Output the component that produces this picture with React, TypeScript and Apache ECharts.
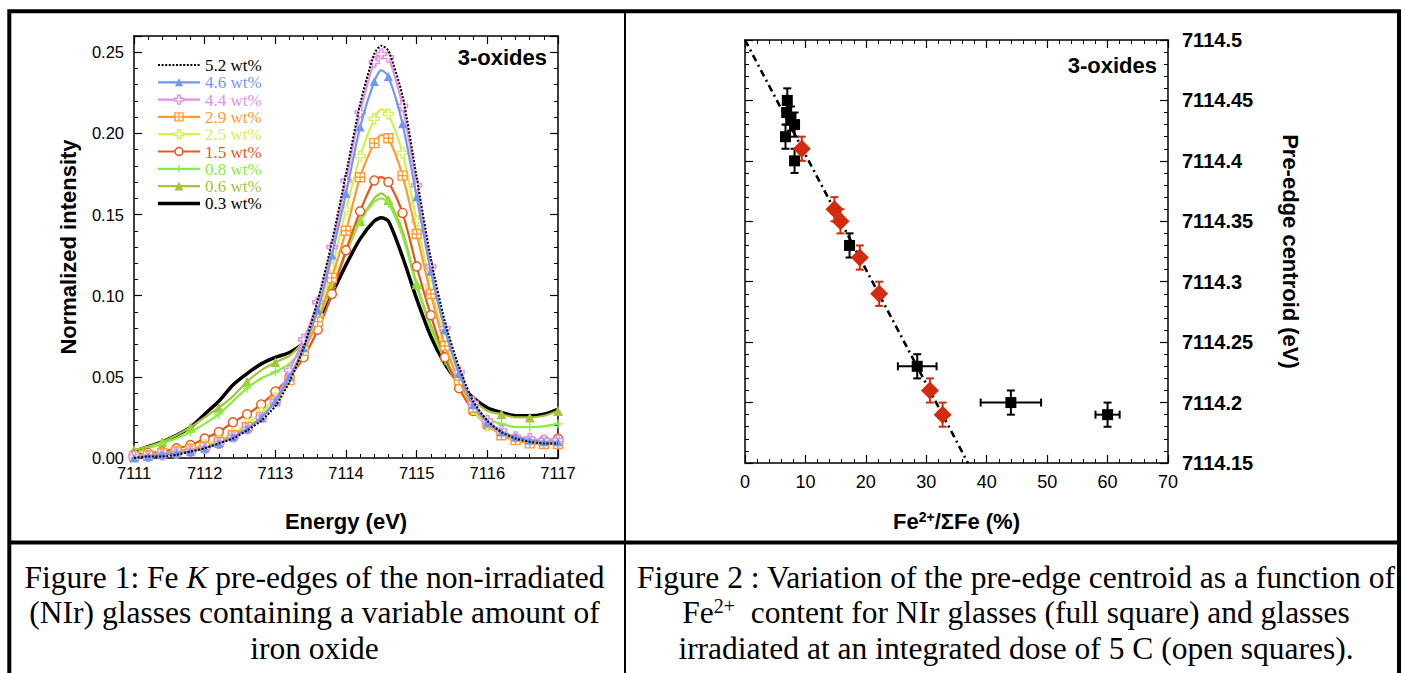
import React, { useEffect, useRef } from 'react';
import * as echarts from 'echarts';

// ---------------- DATA ----------------
// Figure 1 : Fe K pre-edges (normalized intensity vs energy)
const energy = [
  7111.0, 7111.2, 7111.4, 7111.6, 7111.8, 7112.0, 7112.2, 7112.4, 7112.6, 7112.8,
  7113.0, 7113.2, 7113.4, 7113.6, 7113.8, 7114.0, 7114.2, 7114.4, 7114.5, 7114.6,
  7114.8, 7115.0, 7115.2, 7115.4, 7115.6, 7115.8, 7116.0, 7116.2, 7116.4, 7116.6,
  7116.8, 7117.0,
];
const seriesNames = ['5.2 wt%', '4.6 wt%', '4.4 wt%', '2.9 wt%', '2.5 wt%', '1.5 wt%', '0.8 wt%', '0.6 wt%', '0.3 wt%'];
const wt52 = [0.000, 0.001, 0.001, 0.002, 0.004, 0.006, 0.009, 0.012, 0.017, 0.023, 0.032, 0.047, 0.068, 0.097, 0.133, 0.175, 0.218, 0.249, 0.254, 0.251, 0.223, 0.173, 0.123, 0.084, 0.056, 0.035, 0.023, 0.016, 0.012, 0.010, 0.009, 0.009];
const wt46 = [0.000, 0.001, 0.002, 0.003, 0.004, 0.006, 0.009, 0.013, 0.018, 0.025, 0.035, 0.050, 0.068, 0.091, 0.125, 0.163, 0.204, 0.232, 0.239, 0.235, 0.206, 0.161, 0.115, 0.079, 0.052, 0.033, 0.022, 0.016, 0.013, 0.011, 0.010, 0.010];
const wt44 = [0.001, 0.001, 0.002, 0.003, 0.004, 0.006, 0.009, 0.013, 0.018, 0.025, 0.035, 0.054, 0.073, 0.096, 0.130, 0.171, 0.213, 0.244, 0.249, 0.247, 0.217, 0.168, 0.118, 0.080, 0.053, 0.034, 0.023, 0.017, 0.013, 0.012, 0.011, 0.011];
const wt29 = [0.001, 0.0015, 0.003, 0.004, 0.0055, 0.007, 0.010, 0.014, 0.019, 0.025, 0.035, 0.048, 0.066, 0.084, 0.111, 0.140, 0.173, 0.194, 0.199, 0.197, 0.174, 0.138, 0.101, 0.069, 0.048, 0.031, 0.0215, 0.014, 0.011, 0.009, 0.0086, 0.0086];
const wt25 = [0.001, 0.002, 0.003, 0.004, 0.006, 0.008, 0.011, 0.015, 0.021, 0.028, 0.037, 0.049, 0.066, 0.088, 0.117, 0.153, 0.186, 0.209, 0.215, 0.212, 0.188, 0.146, 0.106, 0.073, 0.048, 0.030, 0.020, 0.015, 0.012, 0.010, 0.010, 0.010];
const wt15 = [0.002, 0.003, 0.004, 0.006, 0.008, 0.012, 0.016, 0.022, 0.027, 0.033, 0.041, 0.050, 0.062, 0.079, 0.101, 0.128, 0.152, 0.171, 0.173, 0.170, 0.151, 0.118, 0.088, 0.062, 0.043, 0.029, 0.020, 0.015, 0.012, 0.011, 0.011, 0.012];
const wt08 = [0.003, 0.006, 0.009, 0.012, 0.016, 0.021, 0.027, 0.035, 0.043, 0.049, 0.053, 0.058, 0.068, 0.085, 0.105, 0.127, 0.146, 0.158, 0.160, 0.157, 0.137, 0.106, 0.080, 0.060, 0.043, 0.032, 0.024, 0.021, 0.019, 0.019, 0.0195, 0.021];
const wt06 = [0.005, 0.007, 0.010, 0.014, 0.019, 0.025, 0.031, 0.038, 0.047, 0.054, 0.059, 0.063, 0.072, 0.086, 0.105, 0.126, 0.146, 0.160, 0.163, 0.159, 0.140, 0.107, 0.082, 0.062, 0.046, 0.036, 0.029, 0.027, 0.025, 0.025, 0.026, 0.029];
const wt03 = [0.004, 0.007, 0.010, 0.014, 0.019, 0.027, 0.035, 0.045, 0.052, 0.058, 0.062, 0.065, 0.071, 0.083, 0.101, 0.119, 0.135, 0.146, 0.148, 0.146, 0.124, 0.098, 0.075, 0.058, 0.046, 0.037, 0.031, 0.028, 0.026, 0.026, 0.027, 0.030];
const curveValues = [wt52, wt46, wt44, wt29, wt25, wt15, wt08, wt06, wt03];

const energyTicks = { min: 7111, max: 7117, step: 1 };
const intensityTicks = { min: 0, max: 0.26, step: 0.05, minor: 0.01 };

// Figure 2 : pre-edge centroid vs Fe2+/SumFe
const nirFe = [7.0, 6.9, 7.6, 8.2, 6.7, 8.2, 17.3, 28.5, 44.0, 60.0];
const nirCentroid = [7114.45, 7114.44, 7114.435, 7114.43, 7114.42, 7114.40, 7114.33, 7114.23, 7114.20, 7114.19];
const nirFeErr = [0, 0, 0, 0, 0, 0, 0, 3.2, 5.0, 2.0];
const nirCentroidErr = [0.01, 0.01, 0.01, 0.01, 0.01, 0.01, 0.01, 0.01, 0.01, 0.01];
const irrFe = [9.4, 14.8, 15.8, 19.0, 22.2, 30.6, 32.7];
const irrCentroid = [7114.41, 7114.36, 7114.35, 7114.32, 7114.29, 7114.21, 7114.19];
const irrCentroidErr = [0.01, 0.01, 0.01, 0.01, 0.01, 0.01, 0.01];
const fitLine = [[0, 7114.5], [36.9, 7114.15]];

const feTicks = { min: 0, max: 70, step: 10 };
const centroidTicks = { min: 7114.15, max: 7114.5, step: 0.05 };

// ---------------- STYLES ----------------
const SANS = '"Liberation Sans", Arial, Helvetica, sans-serif';
const SERIF = '"Liberation Serif", "Times New Roman", serif';

const CROSS_OPEN = 'path://M3.5,0H6.5V3.5H10V6.5H6.5V10H3.5V6.5H0V3.5H3.5Z';
const SQ_CROSS = 'path://M0,0H10V10H0Z M5,0V10 M0,5H10';
const PLUS = 'path://M5,0V10 M0,5H10';

type CurveStyle = { color: string; text: string; width: number; dash?: number[]; marker: string; size?: number; every?: number; peak?: boolean };
const curveStyles: CurveStyle[] = [
  { color: '#000000', text: '#000000', width: 2, dash: [2, 1.6], marker: 'none' },
  { color: '#6f98f2', text: '#6f98f2', width: 2.2, marker: 'triangle', size: 9 },
  { color: '#e48de6', text: '#e48de6', width: 2.2, marker: 'crossOpen', size: 10, peak: true },
  { color: '#ff9a33', text: '#ff9a33', width: 2.2, marker: 'sqCross', size: 9 },
  { color: '#d6f04a', text: '#d6f04a', width: 2.2, marker: 'crossOpen', size: 10 },
  { color: '#e8561c', text: '#e8561c', width: 2.2, marker: 'circle', size: 9 },
  { color: '#86ee40', text: '#86ee40', width: 2.2, marker: 'plus', size: 9, every: 2 },
  { color: '#a6c43a', text: '#a6c43a', width: 2.2, marker: 'triangle', size: 10, every: 2 },
  { color: '#000000', text: '#000000', width: 3.5, marker: 'none' },
];

function seriesSymbol(st: CurveStyle) {
  switch (st.marker) {
    case 'triangle':
      return { symbol: 'triangle', itemStyle: { color: st.color } };
    case 'crossOpen':
      return { symbol: CROSS_OPEN, itemStyle: { color: '#ffffff', borderColor: st.color, borderWidth: 1.4 } };
    case 'sqCross':
      return { symbol: SQ_CROSS, itemStyle: { color: '#ffffff', borderColor: st.color, borderWidth: 1.4 } };
    case 'circle':
      return { symbol: 'circle', itemStyle: { color: '#ffffff', borderColor: st.color, borderWidth: 1.4 } };
    case 'plus':
      return { symbol: PLUS, itemStyle: { color: st.color, borderColor: st.color, borderWidth: 1.3 } };
    default:
      return { symbol: 'none', itemStyle: { color: st.color } };
  }
}

function legendMarker(kind: string, cx: number, cy: number, s: number, color: string): any[] {
  const out: any[] = [];
  const z = 60;
  if (kind === 'triangle') {
    out.push({ type: 'polygon', z, shape: { points: [[cx, cy - s / 2], [cx + s / 2, cy + s / 2], [cx - s / 2, cy + s / 2]] }, style: { fill: color } });
  } else if (kind === 'crossOpen') {
    const pts = [[3.5, 0], [6.5, 0], [6.5, 3.5], [10, 3.5], [10, 6.5], [6.5, 6.5], [6.5, 10], [3.5, 10], [3.5, 6.5], [0, 6.5], [0, 3.5], [3.5, 3.5]]
      .map(([px, py]) => [cx + (px - 5) * s / 10, cy + (py - 5) * s / 10]);
    out.push({ type: 'polygon', z, shape: { points: pts }, style: { fill: '#fff', stroke: color, lineWidth: 1.4 } });
  } else if (kind === 'sqCross') {
    out.push({ type: 'rect', z, shape: { x: cx - s / 2, y: cy - s / 2, width: s, height: s }, style: { fill: '#fff', stroke: color, lineWidth: 1.4 } });
    out.push({ type: 'line', z: z + 1, shape: { x1: cx, y1: cy - s / 2, x2: cx, y2: cy + s / 2 }, style: { stroke: color, lineWidth: 1.2 } });
    out.push({ type: 'line', z: z + 1, shape: { x1: cx - s / 2, y1: cy, x2: cx + s / 2, y2: cy }, style: { stroke: color, lineWidth: 1.2 } });
  } else if (kind === 'circle') {
    out.push({ type: 'circle', z, shape: { cx, cy, r: s / 2 }, style: { fill: '#fff', stroke: color, lineWidth: 1.4 } });
  } else if (kind === 'plus') {
    out.push({ type: 'line', z, shape: { x1: cx, y1: cy - s / 2, x2: cx, y2: cy + s / 2 }, style: { stroke: color, lineWidth: 1.3 } });
    out.push({ type: 'line', z, shape: { x1: cx - s / 2, y1: cy, x2: cx + s / 2, y2: cy }, style: { stroke: color, lineWidth: 1.3 } });
  }
  return out;
}

function txt(text: string, x: number, y: number, opts: any = {}) {
  const align = opts.align || 'left';
  return {
    type: 'text',
    x,
    y,
    z: 70,
    style: {
      text,
      fill: opts.fill || '#000',
      fontSize: opts.fontSize || 16,
      fontFamily: opts.fontFamily || SANS,
      fontWeight: opts.fontWeight || 'normal',
      textAlign: align,
      align,
      textVerticalAlign: 'middle',
      verticalAlign: 'middle',
      rich: opts.rich,
    },
  };
}

const tickStyle = { color: '#000', width: 1.2 };
const lineStyleAxis = { color: '#000', width: 1.5 };

function axisBox(base: any) {
  return {
    type: 'value',
    splitLine: { show: false },
    axisLine: { show: true, onZero: false, lineStyle: lineStyleAxis },
    axisTick: { show: true, inside: true, length: 8, lineStyle: tickStyle },
    axisLabel: { show: false },
    ...base,
  };
}

const errorRender = (color: string) => (params: any, api: any) => {
  const x = api.value(0);
  const y = api.value(1);
  const ex = api.value(2);
  const ey = api.value(3);
  const cap = 4;
  const st = { stroke: color, lineWidth: 2 };
  const children: any[] = [];
  if (ey > 0) {
    const p1 = api.coord([x, y - ey]);
    const p2 = api.coord([x, y + ey]);
    children.push({ type: 'line', shape: { x1: p1[0], y1: p1[1], x2: p2[0], y2: p2[1] }, style: st });
    children.push({ type: 'line', shape: { x1: p1[0] - cap, y1: p1[1], x2: p1[0] + cap, y2: p1[1] }, style: st });
    children.push({ type: 'line', shape: { x1: p2[0] - cap, y1: p2[1], x2: p2[0] + cap, y2: p2[1] }, style: st });
  }
  if (ex > 0) {
    const p1 = api.coord([x - ex, y]);
    const p2 = api.coord([x + ex, y]);
    children.push({ type: 'line', shape: { x1: p1[0], y1: p1[1], x2: p2[0], y2: p2[1] }, style: st });
    children.push({ type: 'line', shape: { x1: p1[0], y1: p1[1] - cap, x2: p1[0], y2: p1[1] + cap }, style: st });
    children.push({ type: 'line', shape: { x1: p2[0], y1: p2[1] - cap, x2: p2[0], y2: p2[1] + cap }, style: st });
  }
  return { type: 'group', children };
};

function buildOption() {
  const lineSeries = curveValues.map((vals, si) => {
    const st = curveStyles[si];
    const sym = seriesSymbol(st);
    const every = st.every || 1;
    return {
      name: seriesNames[si],
      type: 'line',
      xAxisIndex: 0,
      yAxisIndex: 0,
      data: energy.map((e, i) => [e, vals[i]]),
      smooth: 0.25,
      showSymbol: st.marker !== 'none',
      symbol: sym.symbol,
      symbolSize: (v: any, p: any) => {
        const e = energy[p.dataIndex];
        if (Math.abs(e - 7114.5) < 1e-6) return st.peak ? st.size : 0;
        const g = Math.round((e - energyTicks.min) / 0.2);
        return g % every === 0 ? st.size : 0;
      },
      itemStyle: { ...sym.itemStyle, opacity: 1 },
      lineStyle: { color: st.color, width: st.width, type: st.dash || 'solid' },
      z: 10 - si * 0.1,
      emphasis: { disabled: true },
    };
  });

  const series: any[] = [
    ...lineSeries,
    {
      type: 'line',
      name: 'fit',
      xAxisIndex: 2,
      yAxisIndex: 4,
      data: fitLine,
      symbol: 'none',
      lineStyle: { color: '#000', width: 2.6, type: [7, 4, 2, 4] },
      z: 2,
    },
    {
      type: 'custom',
      name: 'NIr error',
      xAxisIndex: 2,
      yAxisIndex: 4,
      renderItem: errorRender('#000000'),
      data: nirFe.map((x, i) => [x, nirCentroid[i], nirFeErr[i], nirCentroidErr[i]]),
      encode: { x: 0, y: 1 },
      z: 3,
    },
    {
      type: 'custom',
      name: 'Irr error',
      xAxisIndex: 2,
      yAxisIndex: 4,
      renderItem: errorRender('#d42a0e'),
      data: irrFe.map((x, i) => [x, irrCentroid[i], 0, irrCentroidErr[i]]),
      encode: { x: 0, y: 1 },
      z: 3,
    },
    {
      type: 'scatter',
      name: 'NIr',
      xAxisIndex: 2,
      yAxisIndex: 4,
      symbol: 'rect',
      symbolSize: 11,
      itemStyle: { color: '#000000', opacity: 1 },
      data: nirFe.map((x, i) => [x, nirCentroid[i]]),
      z: 4,
      emphasis: { disabled: true },
    },
    {
      type: 'scatter',
      name: 'Irradiated',
      xAxisIndex: 2,
      yAxisIndex: 4,
      symbol: 'diamond',
      symbolSize: [18, 18],
      itemStyle: { color: '#d42a0e', opacity: 1 },
      data: irrFe.map((x, i) => [x, irrCentroid[i]]),
      z: 5,
      emphasis: { disabled: true },
    },
  ];

  const minorTick = { show: true, splitNumber: 5, length: 4, lineStyle: { color: '#000', width: 1 } };

  const xAxis = [
    axisBox({
      gridIndex: 0, position: 'bottom', min: energyTicks.min, max: energyTicks.max, interval: energyTicks.step,
      minorTick,
      axisLabel: { show: true, color: '#000', fontSize: 16.5, fontFamily: SANS, margin: 6, formatter: (v: number) => String(v) },
      name: 'Energy (eV)', nameLocation: 'middle', nameGap: 52,
      nameTextStyle: { color: '#000', fontSize: 22, fontWeight: 'bold', fontFamily: SANS },
    }),
    axisBox({ gridIndex: 0, position: 'top', min: energyTicks.min, max: energyTicks.max, interval: energyTicks.step, minorTick }),
    axisBox({
      gridIndex: 1, position: 'bottom', min: feTicks.min, max: feTicks.max, interval: feTicks.step,
      minorTick,
      axisLabel: { show: true, color: '#000', fontSize: 18, fontFamily: SANS, margin: 10, formatter: (v: number) => String(v) },
      name: '{b|Fe}{s|2+}{b|/ΣFe (%)}', nameLocation: 'middle', nameGap: 47,
      nameTextStyle: {
        color: '#000', fontSize: 22, fontWeight: 'bold', fontFamily: SANS,
        rich: {
          b: { fontSize: 22, fontWeight: 'bold', fontFamily: SANS, color: '#000' },
          s: { fontSize: 14, fontWeight: 'bold', fontFamily: SANS, color: '#000', verticalAlign: 'top' },
        },
      },
    }),
    axisBox({ gridIndex: 1, position: 'top', min: feTicks.min, max: feTicks.max, interval: feTicks.step, minorTick }),
  ];

  const isMajor = (v: number) => Math.abs(v / intensityTicks.step - Math.round(v / intensityTicks.step)) < 1e-6;

  const yAxis = [
    axisBox({
      gridIndex: 0, position: 'left', min: intensityTicks.min, max: intensityTicks.max, interval: intensityTicks.step,
      axisLabel: { show: true, color: '#000', fontSize: 16.5, fontFamily: SANS, margin: 10, formatter: (v: number) => (isMajor(v) ? v.toFixed(2) : '') },
      name: 'Normalized intensity', nameLocation: 'middle', nameGap: 55,
      nameTextStyle: { color: '#000', fontSize: 22, fontWeight: 'bold', fontFamily: SANS },
    }),
    axisBox({
      gridIndex: 0, position: 'left', min: intensityTicks.min, max: intensityTicks.max, interval: intensityTicks.minor,
      axisLine: { show: false, onZero: false }, axisTick: { show: true, inside: true, length: 4, lineStyle: { color: '#000', width: 1 } },
    }),
    axisBox({ gridIndex: 0, position: 'right', min: intensityTicks.min, max: intensityTicks.max, interval: intensityTicks.step }),
    axisBox({
      gridIndex: 0, position: 'right', min: intensityTicks.min, max: intensityTicks.max, interval: intensityTicks.minor,
      axisLine: { show: false, onZero: false }, axisTick: { show: true, inside: true, length: 4, lineStyle: { color: '#000', width: 1 } },
    }),
    axisBox({
      gridIndex: 1, position: 'right', min: centroidTicks.min, max: centroidTicks.max, interval: centroidTicks.step,
      minorTick,
      axisLabel: { show: true, color: '#000', fontSize: 20, fontWeight: 'bold', fontFamily: SANS, margin: 14, formatter: (v: number) => String(Math.round(v * 100) / 100) },
      name: 'Pre-edge centroid (eV)', nameLocation: 'middle', nameGap: 111, nameRotate: -90,
      nameTextStyle: { color: '#000', fontSize: 22, fontWeight: 'bold', fontFamily: SANS },
    }),
    axisBox({ gridIndex: 1, position: 'left', min: centroidTicks.min, max: centroidTicks.max, interval: centroidTicks.step, minorTick }),
  ];

  // legend (drawn as graphic, from series names and styles)
  const legendEls: any[] = [];
  seriesNames.forEach((name, i) => {
    const st = curveStyles[i];
    const y = 65 + i * 17.3;
    legendEls.push({
      type: 'line', z: 55,
      shape: { x1: 158, y1: y, x2: 200, y2: y },
      style: { stroke: st.color, lineWidth: st.width, lineDash: st.dash || null },
    });
    legendEls.push(...legendMarker(st.marker, 179, y, (st.size || 9) - 1, st.color));
    legendEls.push(txt(name, 205, y + 0.5, { fill: st.text, fontSize: 17, fontFamily: SERIF }));
  });

  const capRich = {
    n: { fontSize: 31.5, fontFamily: SERIF, color: '#000' },
    i: { fontSize: 31.5, fontFamily: SERIF, fontStyle: 'italic', color: '#000' },
    s: { fontSize: 20, fontFamily: SERIF, color: '#000', verticalAlign: 'top' },
  };

  const graphic: any[] = [
    // frame
    { type: 'rect', z: 80, shape: { x: 9.3, y: 11.3, width: 1389.7, height: 720 }, style: { fill: 'none', stroke: '#000', lineWidth: 4 } },
    { type: 'line', z: 80, shape: { x1: 625, y1: 11, x2: 625, y2: 680 }, style: { stroke: '#000', lineWidth: 2 } },
    { type: 'line', z: 80, shape: { x1: 9, y1: 542.5, x2: 1399, y2: 542.5 }, style: { stroke: '#000', lineWidth: 4 } },
    // panel labels
    txt('3-oxides', 547, 57, { fontSize: 22, fontWeight: 'bold', align: 'right' }),
    txt('3-oxides', 1157, 65, { fontSize: 22, fontWeight: 'bold', align: 'right' }),
    ...legendEls,
    // captions
    txt('{n|Figure 1: Fe }{i|K}{n| pre-edges of the non-irradiated}', 314.5, 577, { align: 'center', fontSize: 31.5, fontFamily: SERIF, rich: capRich }),
    txt('(NIr) glasses containing a variable amount of', 314.5, 612, { align: 'center', fontSize: 31.5, fontFamily: SERIF }),
    txt('iron oxide', 314.5, 648, { align: 'center', fontSize: 31.5, fontFamily: SERIF }),
    txt('Figure 2 : Variation of the pre-edge centroid as a function of', 1016, 577, { align: 'center', fontSize: 31.5, fontFamily: SERIF }),
    txt('{n|Fe}{s|2+}{n|  content for NIr glasses (full square) and glasses}', 1016, 612, { align: 'center', fontSize: 31.5, fontFamily: SERIF, rich: capRich }),
    txt('irradiated at an integrated dose of 5 C (open squares).', 1016, 648, { align: 'center', fontSize: 31.5, fontFamily: SERIF }),
  ];

  return {
    animation: false,
    backgroundColor: '#ffffff',
    grid: [
      { left: 134, top: 36, width: 424, height: 422, containLabel: false },
      { left: 745, top: 40, width: 423, height: 423, containLabel: false },
    ],
    xAxis,
    yAxis,
    series,
    graphic,
  };
}

export default function App() {
  const ref = useRef<HTMLDivElement>(null);
  useEffect(() => {
    if (!ref.current) return;
    const chart = echarts.init(ref.current, undefined, { renderer: 'svg' });
    chart.setOption(buildOption() as any);
    return () => chart.dispose();
  }, []);
  return (
    <div
      ref={ref}
      style={{ position: 'fixed', left: 0, top: 0, width: 1406, height: 673, background: '#fff' }}
    />
  );
}
